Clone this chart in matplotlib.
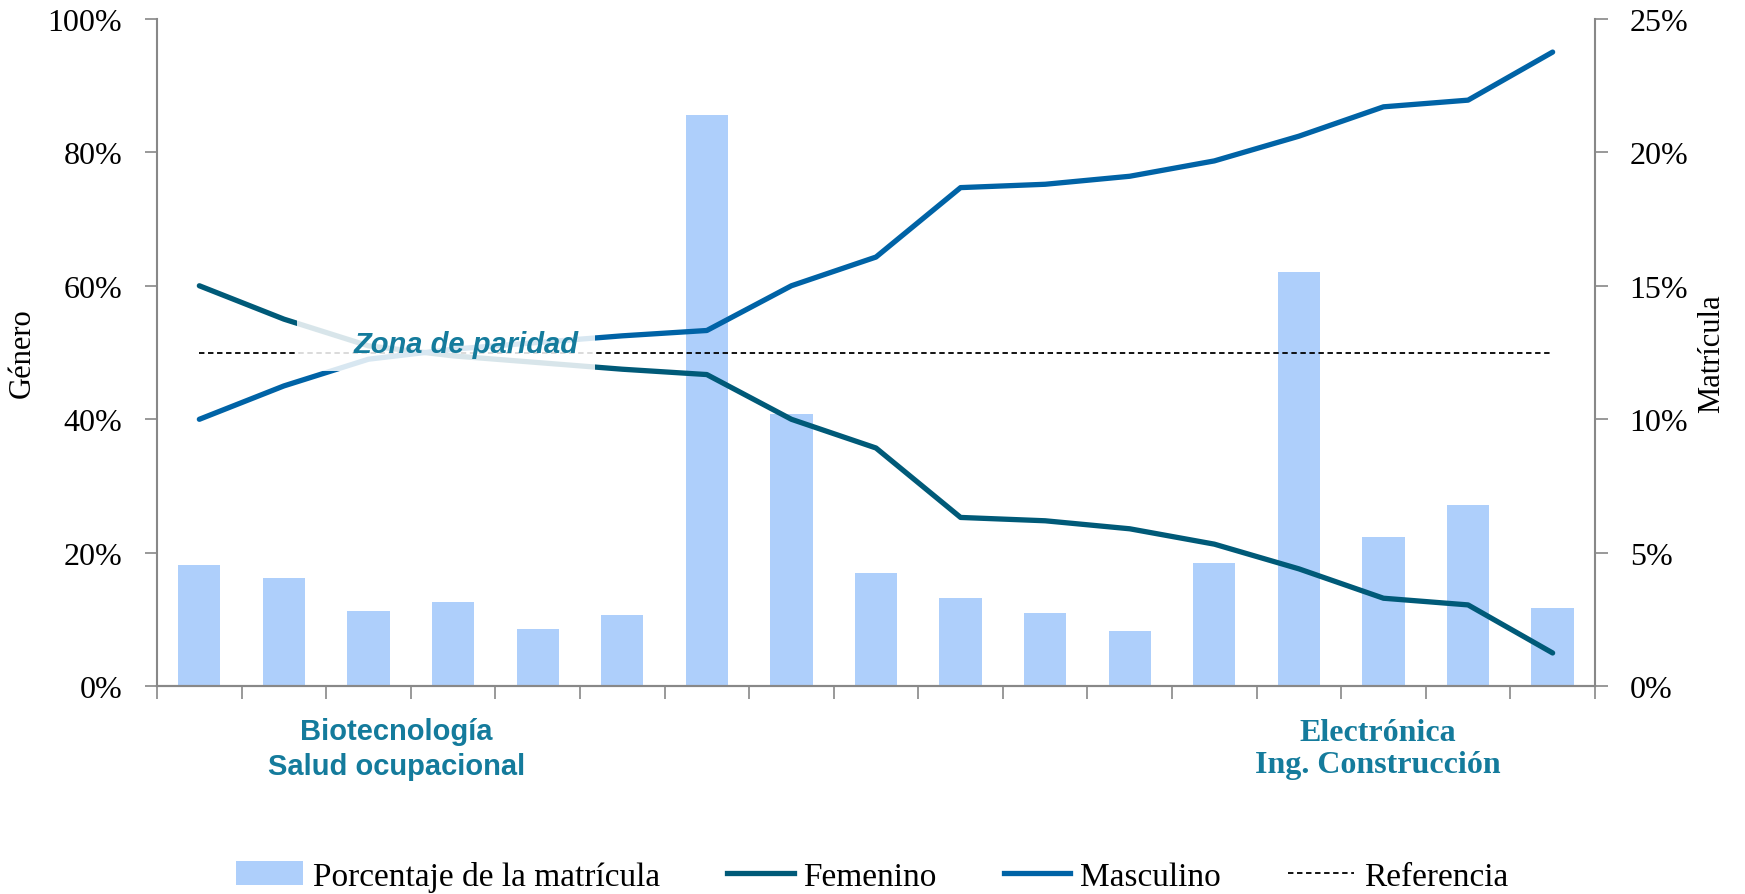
import numpy as np
import matplotlib
matplotlib.use('Agg')
import matplotlib.pyplot as plt
from matplotlib.patches import Rectangle, Patch
from matplotlib.lines import Line2D
from matplotlib.ticker import FuncFormatter

# Data
matricula = [4.55, 4.05, 2.84, 3.17, 2.13, 2.67, 21.4, 10.2, 4.26, 3.30,
             2.75, 2.09, 4.63, 15.5, 5.59, 6.80, 2.92]
masculino = [40, 45, 49, 50.5, 51.5, 52.5, 53.3, 60, 64.3, 74.7,
             75.2, 76.4, 78.7, 82.4, 86.8, 87.8, 95]
femenino = [60, 55, 51, 49.5, 48.5, 47.5, 46.7, 40, 35.7, 25.3,
            24.8, 23.6, 21.3, 17.6, 13.2, 12.2, 5]
referencia = 50

# Colours
C_BAR = '#aecffb'
C_FEM = '#005a78'
C_MAS = '#0063a6'
C_TXT = '#147b9c'
C_AX = '#888888'

SERIF = 'Liberation Serif'

x = np.arange(len(matricula))

fig = plt.figure(figsize=(17.45, 8.95), dpi=100)
ax = fig.add_axes([0.090, 0.232, 0.824, 0.746])
ax2 = ax.twinx()

# bars on the right axis, behind the lines
ax2.bar(x, matricula, width=0.5, color=C_BAR, zorder=1)
ax2.set_ylim(0, 25)
ax2.set_yticks(np.arange(0, 26, 5))
ax2.yaxis.set_major_formatter(FuncFormatter(lambda v, p: f'{v:.0f}%'))

ax.set_zorder(ax2.get_zorder() + 1)
ax.patch.set_visible(False)

ax.plot(x, femenino, color=C_FEM, lw=3.8, solid_capstyle='round', zorder=3)
ax.plot(x, masculino, color=C_MAS, lw=3.8, solid_capstyle='round', zorder=3)
ax.plot([x[0], x[-1]], [referencia, referencia], color='black', lw=1.3,
        ls=(0, (3, 2)), zorder=2)

# "Zona de paridad" overlay
ax.add_patch(Rectangle((1.15, 47.2), 3.53, 8.3, facecolor='white',
                       edgecolor='none', alpha=0.85, zorder=4))
ax.text(3.16, 51.3, 'Zona de paridad', color=C_TXT, fontsize=21,
        fontweight='bold', fontstyle='italic', family='Liberation Sans',
        ha='center', va='center', zorder=5)

ax.set_xlim(-0.5, len(x) - 0.5)
ax.set_ylim(0, 100)
ax.set_yticks(np.arange(0, 101, 20))
ax.yaxis.set_major_formatter(FuncFormatter(lambda v, p: f'{v:.0f}%'))
ax.set_xticks(np.arange(-0.5, len(x), 1))
ax.set_xticklabels([])

for a in (ax, ax2):
    for s in a.spines.values():
        s.set_color(C_AX)
        s.set_linewidth(1.5)
    a.spines['top'].set_visible(False)
    a.tick_params(colors=C_AX, width=1.2, length=9, labelcolor='black',
                  labelsize=23)
    for lab in a.get_yticklabels():
        lab.set_family(SERIF)
ax.spines['right'].set_visible(False)
ax2.spines['left'].set_visible(False)
ax.tick_params(axis='y', pad=16)
ax2.tick_params(axis='y', pad=16)

ax.set_ylabel('Género', fontsize=22, family=SERIF, labelpad=8)
ax2.set_ylabel('Matrícula', fontsize=22, family=SERIF, labelpad=6)

# notes under the axis
ax.text(2.33, -0.093, 'Biotecnología\nSalud ocupacional',
        transform=ax.get_xaxis_transform(), ha='center', va='center',
        color=C_TXT, fontsize=21, fontweight='bold', family='Liberation Sans',
        linespacing=1.3)
ax.text(13.93, -0.093, 'Electrónica\nIng. Construcción',
        transform=ax.get_xaxis_transform(), ha='center', va='center',
        color=C_TXT, fontsize=23, fontweight='bold', family=SERIF,
        linespacing=1.15)

handles = [Patch(facecolor=C_BAR),
           Line2D([], [], color=C_FEM, lw=3.8),
           Line2D([], [], color=C_MAS, lw=3.8),
           Line2D([], [], color='black', lw=1.3, ls=(0, (3, 2)))]
labels = ['Porcentaje de la matrícula', 'Femenino', 'Masculino', 'Referencia']
fig.legend(handles, labels, loc='center', bbox_to_anchor=(0.5, 0.02),
           ncol=4, frameon=False, prop={'family': SERIF, 'size': 24},
           handlelength=2.0, handletextpad=0.3, columnspacing=2.0)

fig.savefig('out.png', dpi=100)
